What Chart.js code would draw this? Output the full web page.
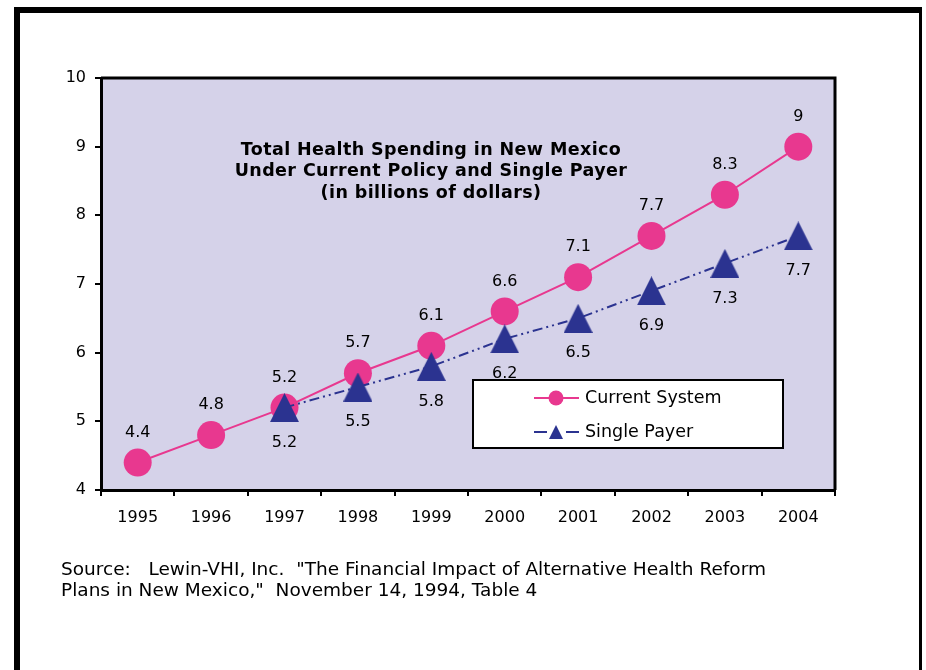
<!DOCTYPE html>
<html>
<head>
<meta charset="utf-8">
<script src="https://cdn.jsdelivr.net/npm/chart.js@4.4.1/dist/chart.umd.min.js"></script>
<style>
  html, body { margin:0; padding:0; background:#fff; }
  #wrap { position:relative; width:926px; height:670px; overflow:hidden; }
  #frame { position:absolute; left:14px; top:7px; width:899px; height:700px;
           border-left:6px solid #000; border-top:6px solid #000; border-right:3px solid #000; }
  #chart { position:absolute; left:0; top:0; }
  #source { position:absolute; left:61px; top:558px; font-family:"DejaVu Sans",Verdana,sans-serif;
            font-size:18.5px; line-height:21px; color:#000; white-space:pre; }
</style>
</head>
<body>
<div id="wrap">
  <div id="frame"></div>
  <canvas id="chart" width="926" height="670"></canvas>
  <div id="source">Source:   Lewin-VHI, Inc.  "The Financial Impact of Alternative Health Reform
Plans in New Mexico,"  November 14, 1994, Table 4</div>
</div>
<script>
/* data */
const years = ['1995','1996','1997','1998','1999','2000','2001','2002','2003','2004'];
const currentSystem = [4.4, 4.8, 5.2, 5.7, 6.1, 6.6, 7.1, 7.7, 8.3, 9];
const singlePayer = [null, null, 5.2, 5.5, 5.8, 6.2, 6.5, 6.9, 7.3, 7.7];
const titleLines = ['Total Health Spending in New Mexico','Under Current Policy and Single Payer','(in billions of dollars)'];

const PINK = '#e8388f';
const NAVY = '#2b3390';
const FONT = '"DejaVu Sans", Verdana, sans-serif';

/* triangle marker centred on its box, like the original */
function makeTriangle(size){
    const c = document.createElement('canvas');
    c.width = size; c.height = size;
    const g = c.getContext('2d');
    g.fillStyle = NAVY;
    g.beginPath();
    g.moveTo(size/2, 0);
    g.lineTo(size, size);
    g.lineTo(0, size);
    g.closePath();
    g.fill();
    return c;
}
const bigTri = makeTriangle(29);
const smallTri = makeTriangle(14);

const plotBox = {
    id:'plotBox',
    beforeDraw(chart){
        const {ctx, chartArea:a} = chart;
        ctx.save();
        ctx.fillStyle = '#d5d2e9';
        ctx.fillRect(a.left, a.top, a.right-a.left, a.bottom-a.top);
        ctx.strokeStyle = '#000';
        ctx.lineWidth = 3;
        ctx.beginPath();
        ctx.moveTo(a.left, a.top);
        ctx.lineTo(a.right, a.top);
        ctx.lineTo(a.right, a.bottom);
        ctx.stroke();
        // title inside the plot
        ctx.fillStyle = '#000';
        ctx.font = 'bold 17.5px ' + FONT;
        ctx.letterSpacing = '0.4px';
        ctx.textAlign = 'center';
        ctx.textBaseline = 'middle';
        titleLines.forEach((t,i) => ctx.fillText(t, 431, 150 + i*21.5));
        ctx.restore();
    }
};

const valueLabels = {
    id:'valueLabels',
    afterDatasetsDraw(chart){
        const ctx = chart.ctx;
        ctx.save();
        ctx.font = '16px ' + FONT;
        ctx.fillStyle = '#000';
        ctx.textAlign = 'center';
        ctx.textBaseline = 'middle';
        chart.data.datasets.forEach((ds, di) => {
            const meta = chart.getDatasetMeta(di);
            const off = ds.labelOffset;
            meta.data.forEach((pt, i) => {
                const v = ds.data[i];
                if(v === null) return;
                ctx.fillText(String(v), pt.x, pt.y + off);
            });
        });
        ctx.restore();
    }
};

const boxLegend = {
    id:'boxLegend',
    afterDraw(chart){
        const ctx = chart.ctx;
        const x = 473, y = 380, w = 310, h = 68;
        ctx.save();
        ctx.fillStyle = '#fff';
        ctx.fillRect(x, y, w, h);
        ctx.strokeStyle = '#000';
        ctx.lineWidth = 2;
        ctx.strokeRect(x, y, w, h);

        // Current System
        ctx.strokeStyle = PINK;
        ctx.lineWidth = 2;
        ctx.beginPath(); ctx.moveTo(534, 398); ctx.lineTo(579, 398); ctx.stroke();
        ctx.fillStyle = PINK;
        ctx.beginPath(); ctx.arc(556, 398, 7.5, 0, Math.PI*2); ctx.fill();

        // Single Payer
        ctx.strokeStyle = NAVY;
        ctx.beginPath();
        ctx.moveTo(534, 432); ctx.lineTo(547, 432);
        ctx.moveTo(566, 432); ctx.lineTo(579, 432);
        ctx.stroke();
        ctx.drawImage(smallTri, 549, 425);

        ctx.fillStyle = '#000';
        ctx.font = '17.5px ' + FONT;
        ctx.textAlign = 'left';
        ctx.textBaseline = 'middle';
        ctx.fillText(chart.data.datasets[0].label, 585, 398);
        ctx.fillText(chart.data.datasets[1].label, 585, 432);
        ctx.restore();
    }
};

new Chart(document.getElementById('chart'), {
    type:'line',
    data:{
        labels:years,
        datasets:[{
            label:'Current System',
            data:currentSystem,
            borderColor:PINK,
            backgroundColor:PINK,
            borderWidth:2,
            pointRadius:14,
            pointHoverRadius:14,
            pointStyle:'circle',
            pointBorderWidth:0,
            tension:0,
            fill:false,
            order:2,
            labelOffset:-30
        },{
            label:'Single Payer',
            data:singlePayer,
            borderColor:NAVY,
            backgroundColor:NAVY,
            borderWidth:2,
            borderDash:[10,4,2,4,2,4],
            pointStyle:bigTri,
            pointRadius:14,
            pointBorderWidth:0,
            tension:0,
            fill:false,
            spanGaps:false,
            order:1,
            labelOffset:35
        }]
    },
    options:{
        responsive:false,
        devicePixelRatio:1,
        animation:false,
        layout:{ padding:{ left:0, right:91, top:78, bottom:0 } },
        plugins:{
            legend:{ display:false },
            title:{ display:false },
            tooltip:{ enabled:false }
        },
        scales:{
            x:{
                offset:true,
                grid:{ offset:true, drawOnChartArea:false, drawTicks:true, tickLength:6, color:'#000', lineWidth:2 },
                border:{ display:true, color:'#000', width:3 },
                ticks:{ color:'#000', font:{ family:FONT, size:16 }, padding:12, maxRotation:0 },
                afterFit(scale){ scale.height = 180; }
            },
            y:{
                min:4,
                max:10,
                grid:{ drawOnChartArea:false, drawTicks:true, tickLength:6, color:'#000', lineWidth:2 },
                border:{ display:true, color:'#000', width:3 },
                ticks:{ stepSize:1, color:'#000', font:{ family:FONT, size:16 }, padding:9 },
                afterFit(scale){ scale.width = 101; }
            }
        }
    },
    plugins:[plotBox, valueLabels, boxLegend]
});
</script>
</body>
</html>
